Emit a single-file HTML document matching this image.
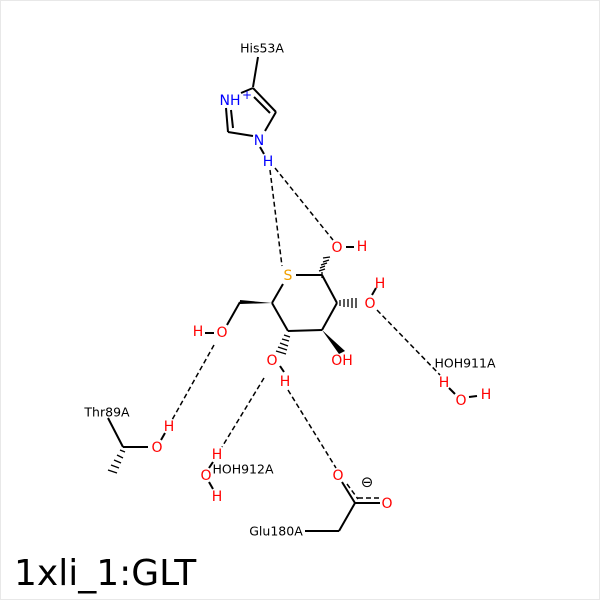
<!DOCTYPE html>
<html><head><style>
html,body{margin:0;padding:0;background:#fff}
svg{display:block}
text{font-family:"DejaVu Sans",sans-serif}
</style></head><body>
<svg width="600" height="600" viewBox="0 0 600 600" xmlns="http://www.w3.org/2000/svg">
<rect x="0.5" y="0.5" width="599" height="599" fill="#fff" stroke="#e8e8e8"/>
<g stroke="#000" stroke-width="2" fill="none">
<line x1="258" y1="57" x2="253" y2="87"/>
<line x1="253" y1="88" x2="276" y2="112"/>
<line x1="254" y1="97" x2="270" y2="113"/>
<line x1="276" y1="112" x2="265" y2="131"/>
<line x1="253" y1="136" x2="228" y2="132"/>
<line x1="228" y1="132" x2="226" y2="108"/>
<line x1="233" y1="128" x2="231" y2="110"/>
<line x1="241" y1="93" x2="253" y2="88"/>
<line x1="260" y1="147" x2="264" y2="154"/>
<line x1="296" y1="275" x2="322" y2="275"/>
<line x1="322" y1="275" x2="337" y2="303"/>
<line x1="337" y1="303" x2="322" y2="330"/>
<line x1="322" y1="330" x2="288" y2="331"/>
<line x1="288" y1="331" x2="272" y2="303"/>
<line x1="272" y1="303" x2="283" y2="284"/>
<line x1="240" y1="302" x2="227" y2="325"/>
<line x1="205" y1="333" x2="214" y2="333"/>
<line x1="354" y1="247" x2="346" y2="247"/>
<line x1="376" y1="288" x2="372" y2="295"/>
<line x1="284" y1="372" x2="280" y2="366"/>
<line x1="108" y1="418" x2="123" y2="447"/>
<line x1="123" y1="447" x2="148" y2="447"/>
<line x1="161" y1="440" x2="165" y2="433"/>
<line x1="449" y1="388" x2="455" y2="394"/>
<line x1="469" y1="397" x2="477" y2="396"/>
<line x1="213" y1="462" x2="209" y2="468"/>
<line x1="209" y1="482" x2="213" y2="489"/>
<line x1="305" y1="531" x2="339" y2="531"/>
<line x1="339" y1="531" x2="355" y2="503"/>
<line x1="355" y1="503" x2="342" y2="482"/>
<line x1="355" y1="503" x2="380" y2="503"/>
</g>
<polygon points="272,303 240,300 240,304" fill="#000"/>
<polygon points="322,330 339,354 345,351" fill="#000"/>
<g stroke="#000" stroke-width="1.3">
<line x1="322" y1="272" x2="322" y2="278"/><line x1="325" y1="266" x2="320" y2="268"/>
<line x1="325" y1="269" x2="319" y2="271"/><line x1="327" y1="263" x2="321" y2="265"/>
<line x1="329" y1="260" x2="323" y2="262"/><line x1="330" y1="257" x2="323" y2="258"/>
<line x1="340" y1="300" x2="340" y2="306"/><line x1="344" y1="299" x2="344" y2="307"/>
<line x1="348" y1="299" x2="348" y2="307"/><line x1="352" y1="298" x2="352" y2="308"/>
<line x1="356" y1="298" x2="356" y2="308"/>
<line x1="284" y1="335" x2="290" y2="337"/><line x1="282" y1="339" x2="289" y2="341"/>
<line x1="280" y1="343" x2="288" y2="346"/><line x1="278" y1="347" x2="287" y2="350"/>
<line x1="276" y1="351" x2="286" y2="354"/>
<line x1="120" y1="450" x2="125" y2="452"/><line x1="117" y1="455" x2="123" y2="458"/>
<line x1="114" y1="460" x2="121" y2="463"/><line x1="111" y1="465" x2="119" y2="468"/>
<line x1="108" y1="470" x2="117" y2="473"/>
</g>
<g stroke="#000" stroke-width="1.5" stroke-dasharray="5,3" fill="none">
<line x1="270" y1="170" x2="282" y2="266"/>
<line x1="275" y1="168" x2="333" y2="240"/>
<line x1="377" y1="310" x2="440" y2="375"/>
<line x1="214" y1="345" x2="172" y2="420"/>
<line x1="264" y1="378" x2="222" y2="447"/>
<line x1="288" y1="390" x2="336" y2="468"/>
<line x1="347" y1="484" x2="358" y2="499"/>
<line x1="358" y1="498" x2="382" y2="498"/>
</g>
<g font-size="12.5" text-anchor="middle" dominant-baseline="central">
<text x="262" y="48" fill="#000">His53A</text>
<text x="230" y="101" fill="#00f" font-size="14">NH</text><text x="247" y="95" fill="#00f" font-size="12">+</text>
<text x="259" y="141" fill="#00f" font-size="14">N</text>
<text x="268" y="162" fill="#00f" font-size="14">H</text>
<text x="288" y="276" fill="#f0a000" font-size="14">S</text>
<text x="337" y="248" fill="#f00" font-size="14">O</text>
<text x="362" y="247" fill="#f00" font-size="14">H</text>
<text x="370" y="304" fill="#f00" font-size="14">O</text>
<text x="380" y="284" fill="#f00" font-size="14">H</text>
<text x="342" y="361" fill="#f00" font-size="14">OH</text>
<text x="272" y="361" fill="#f00" font-size="14">O</text>
<text x="285" y="382" fill="#f00" font-size="14">H</text>
<text x="222" y="333" fill="#f00" font-size="14">O</text>
<text x="198" y="332" fill="#f00" font-size="14">H</text>
<text x="465" y="363" fill="#000">HOH911A</text>
<text x="444" y="383" fill="#f00" font-size="14">H</text>
<text x="461" y="401" fill="#f00" font-size="14">O</text>
<text x="486" y="395" fill="#f00" font-size="14">H</text>
<text x="107" y="412" fill="#000">Thr89A</text>
<text x="169" y="427" fill="#f00" font-size="14">H</text>
<text x="157" y="448" fill="#f00" font-size="14">O</text>
<text x="217" y="455" fill="#f00" font-size="14">H</text>
<text x="206" y="476" fill="#f00" font-size="14">O</text>
<text x="217" y="497" fill="#f00" font-size="14">H</text>
<text x="243" y="469" fill="#000">HOH912A</text>
<text x="338" y="476" fill="#f00" font-size="14">O</text>
<text x="387" y="504" fill="#f00" font-size="14">O</text>
<text x="367" y="482" fill="#000" font-size="15">⊖</text>
<text x="276" y="531" fill="#000">Glu180A</text>
</g>
<text x="14" y="585" font-size="36" fill="#000">1xli_1:GLT</text>
</svg>
</body></html>
